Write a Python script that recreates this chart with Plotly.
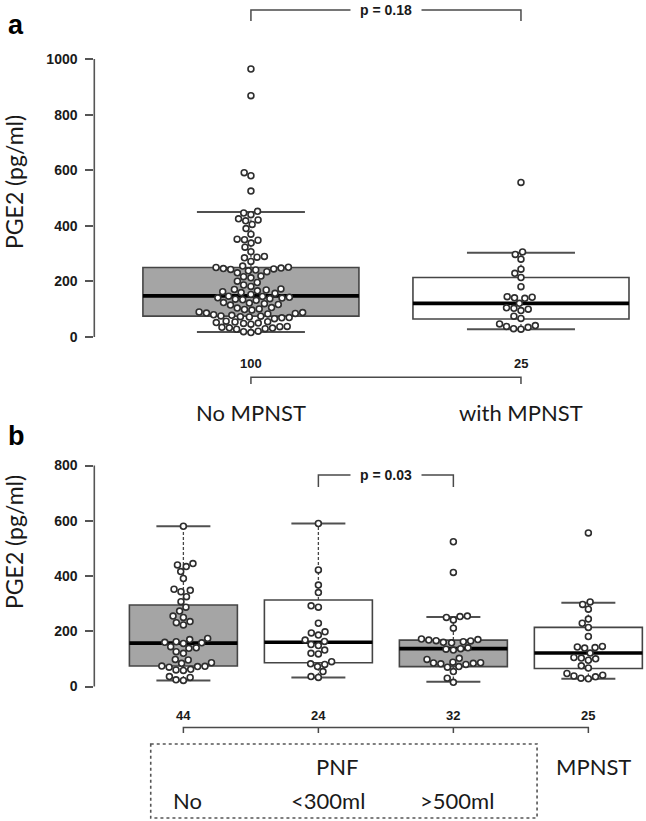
import numpy as np
import plotly.graph_objects as go

W, H = 646, 821

# ---------------- data ----------------
# panel a
a_names = ["No MPNST", "with MPNST"]
a_counts = ["100", "25"]
no_mpnst = [964, 868, 591, 580, 525,
            452, 446, 440, 425, 421, 418, 405, 390, 370, 352, 350, 348, 338, 323, 307, 290, 287, 285, 272, 255,
            251, 250, 248, 246, 245, 243, 241, 238, 235, 231, 219, 217, 213, 201, 196, 187, 182, 173, 171, 169,
            166, 163, 160, 157, 153,
            147, 146, 143, 141, 140, 138, 136, 134, 132, 124, 122, 120, 117, 115, 106, 104, 101, 99, 97, 90,
            88, 86, 85, 83, 80,
            78, 76, 75, 73, 72, 70, 69, 66, 57, 55, 54, 52, 50, 49, 46, 38, 37, 35, 33, 32, 30, 28, 21, 19, 16]
with_mpnst = [556, 306, 297, 280, 244, 229, 214, 181, 145, 143, 141, 139, 121, 105, 103, 100, 95, 75, 67,
              47, 41, 38, 35, 30, 28]
a_q1 = [75, 65]
a_med = [148, 121]
a_q3 = [250, 214]
a_lo = [18, 28]
a_hi = [450, 303]
a_fill = ["#a5a5a5", "#ffffff"]
a_ticks = [0, 200, 400, 600, 800, 1000]
a_p = "p = 0.18"

# panel b
b_counts = ["44", "24", "32", "25"]
b_sub = ["No", "<300ml", ">500ml"]
pnf_no = [580, 445, 440, 434, 416, 391, 352, 348, 343, 325, 307, 287, 273, 255, 250, 235, 231, 223, 174,
          170, 162, 160, 158, 156, 144, 140, 138, 126, 120, 98, 96, 86, 84, 74, 73, 72, 70, 62, 60, 58,
          36, 33, 24, 22]
pnf_lt300 = [590, 422, 367, 340, 292, 287, 229, 198, 194, 186, 168, 163, 152, 148, 132, 120, 118, 90, 82,
             80, 72, 54, 36, 33]
pnf_gt500 = [524, 413, 255, 253, 250, 241, 211, 172, 170, 168, 166, 165, 162, 160, 158, 140, 137, 135,
             132, 102, 98, 88, 86, 85, 84, 82, 80, 72, 70, 54, 30, 15]
mpnst = with_mpnst
b_q1 = [74, 86, 72, 65]
b_med = [157, 160, 137, 121]
b_q3 = [295, 313, 168, 214]
b_lo = [22, 33, 17, 28]
b_hi = [580, 590, 252, 303]
b_fill = ["#a5a5a5", "#ffffff", "#a5a5a5", "#ffffff"]
b_ticks = [0, 200, 400, 600, 800]
b_p = "p = 0.03"

# ---------------- layout geometry ----------------
AX_LEFT = 94.3 / W
xa_range = [0.42, 2.463]
xb_range = [0.34, 4.427]
ya_dom = [1 - 430 / H, 1.0]
ya_range = [-334.5, 1212.23]
yb_dom = [0.0, 1 - 450 / H]
yb_range = [-486.9, 856.1]


def px_per(dom, rng, size):
    return size * (dom[1] - dom[0]) / (rng[1] - rng[0])


kxa = px_per([AX_LEFT, 1], xa_range, W)
kxb = px_per([AX_LEFT, 1], xb_range, W)
kya = px_per(ya_dom, ya_range, H)
kyb = px_per(yb_dom, yb_range, H)

BOXW = 0.8
EDGE = "#454545"
TXT = "#1a1a1a"
DIAM = 7.4  # swarm spacing in px


def swarm(vals, ky, kx):
    ys = np.asarray(vals, float) * ky
    xs = np.zeros(len(ys))
    placed = []
    for i in np.argsort(ys, kind="stable"):
        y = ys[i]
        cands = [0.0]
        for py, px in placed:
            dy = abs(y - py)
            if dy < DIAM:
                dx = np.sqrt(DIAM ** 2 - dy ** 2)
                cands += [px + dx, px - dx]
        cands.sort(key=lambda c: (abs(c), c))
        for c in cands:
            if all((c - px) ** 2 + (y - py) ** 2 >= DIAM ** 2 - 1e-6 for py, px in placed):
                xs[i] = c
                break
        placed.append((y, xs[i]))
    return xs / kx


fig = go.Figure()


def add_group(pos, q1, med, q3, fill, xa, ya):
    fig.add_trace(go.Box(x=[pos], q1=[q1], median=[med], q3=[q3], lowerfence=[q1], upperfence=[q3],
                         width=BOXW, fillcolor=fill, line=dict(color=EDGE, width=1.6), whiskerwidth=0,
                         boxpoints=False, xaxis=xa, yaxis=ya, showlegend=False, hoverinfo="skip"))


def add_overlays(pos, vals, q1, med, q3, lo, hi, xa, ya, kx, ky):
    fig.add_trace(go.Scatter(x=[pos, pos, None, pos, pos], y=[q3, hi, None, q1, lo], mode="lines",
                             line=dict(color=EDGE, width=1.3, dash="3px,2px"), xaxis=xa, yaxis=ya,
                             showlegend=False, hoverinfo="skip"))
    c = BOXW / 4
    fig.add_trace(go.Scatter(x=[pos - c, pos + c, None, pos - c, pos + c], y=[hi, hi, None, lo, lo],
                             mode="lines", line=dict(color="#505050", width=2), xaxis=xa, yaxis=ya,
                             showlegend=False, hoverinfo="skip"))
    fig.add_trace(go.Scatter(x=[pos - BOXW / 2, pos + BOXW / 2], y=[med, med], mode="lines",
                             line=dict(color="#000000", width=3.6), xaxis=xa, yaxis=ya,
                             showlegend=False, hoverinfo="skip"))
    off = swarm(vals, ky, kx)
    fig.add_trace(go.Scatter(x=pos + off, y=vals, mode="markers",
                             marker=dict(size=5.9, color="white", line=dict(color="#2e2e2e", width=1.6)),
                             xaxis=xa, yaxis=ya, cliponaxis=False, showlegend=False, hoverinfo="skip"))


a_sets = [no_mpnst, with_mpnst]
b_sets = [pnf_no, pnf_lt300, pnf_gt500, mpnst]
for i in range(len(a_sets)):
    add_group(i + 1, a_q1[i], a_med[i], a_q3[i], a_fill[i], "x", "y")
for i in range(len(b_sets)):
    add_group(i + 1, b_q1[i], b_med[i], b_q3[i], b_fill[i], "x2", "y2")
for i, v in enumerate(a_sets):
    add_overlays(i + 1, v, a_q1[i], a_med[i], a_q3[i], a_lo[i], a_hi[i], "x", "y", kxa, kya)
for i, v in enumerate(b_sets):
    add_overlays(i + 1, v, b_q1[i], b_med[i], b_q3[i], b_lo[i], b_hi[i], "x2", "y2", kxb, kyb)

tickfont = dict(family="Liberation Sans", size=14, color=TXT, weight="bold")
common_x = dict(showgrid=False, zeroline=False, showticklabels=False, ticks="", showline=False)
common_y = dict(showgrid=False, zeroline=False, showline=False, ticks="outside", ticklen=8, tickwidth=1.6,
                tickcolor="#555555", tickfont=tickfont, ticklabelstandoff=5)

fig.update_layout(
    width=W, height=H, autosize=False, margin=dict(l=0, r=0, t=0, b=0, pad=0),
    paper_bgcolor="white", plot_bgcolor="rgba(0,0,0,0)",
    xaxis=dict(domain=[AX_LEFT, 1], range=xa_range, anchor="y", **common_x),
    yaxis=dict(domain=ya_dom, range=ya_range, anchor="x", tickvals=a_ticks, **common_y),
    xaxis2=dict(domain=[AX_LEFT, 1], range=xb_range, anchor="y2", **common_x),
    yaxis2=dict(domain=yb_dom, range=yb_range, anchor="x2", tickvals=b_ticks, **common_y),
)

LC = "#4a4a4a"
shapes = [
    # y axis lines (span of tick range only)
    dict(type="line", xref="paper", yref="y", x0=AX_LEFT, x1=AX_LEFT, y0=a_ticks[0], y1=a_ticks[-1],
         line=dict(color="#555555", width=1.6)),
    dict(type="line", xref="paper", yref="y2", x0=AX_LEFT, x1=AX_LEFT, y0=b_ticks[0], y1=b_ticks[-1],
         line=dict(color="#555555", width=1.6)),
    # p-value brackets
    dict(type="path", xref="x", yref="y", path="M 1,1137 L 1,1176 L 2,1176 L 2,1137",
         line=dict(color=LC, width=1.5)),
    dict(type="path", xref="x2", yref="y2", path="M 2,722 L 2,765.6 L 3,765.6 L 3,722",
         line=dict(color=LC, width=1.5)),
    # group axis brackets
    dict(type="path", xref="x", yref="y", path="M 1,-169 L 1,-145 L 2,-145 L 2,-169",
         line=dict(color=LC, width=1.5)),
    dict(type="path", xref="x2", yref="y2",
         path="M 1,-168 L 1,-148 L 4,-148 L 4,-168 M 2,-148 L 2,-168 M 3,-148 L 3,-168",
         line=dict(color=LC, width=1.5)),
    # dotted PNF frame
    dict(type="rect", xref="x2", yref="y2", x0=0.758, x1=3.62, y0=-208, y1=-476,
         line=dict(color="#555555", width=1.6, dash="dot")),
]
fig.update_layout(shapes=shapes)

lbl = dict(family="Lato", size=22, color=TXT)
numfont = dict(family="Liberation Sans", size=13, color=TXT, weight="bold")
pfont = dict(family="Liberation Sans", size=14, color=TXT, weight="bold")
ann = []
ann.append(dict(text=a_p, x=1.5, y=1176, xref="x", yref="y", showarrow=False, bgcolor="white",
                borderpad=9, font=pfont))
ann.append(dict(text=b_p, x=2.5, y=765.6, xref="x2", yref="y2", showarrow=False, bgcolor="white",
                borderpad=9, font=pfont))
for i, c in enumerate(a_counts):
    ann.append(dict(text=c, x=i + 1, y=-97, xref="x", yref="y", showarrow=False, font=numfont))
    ann.append(dict(text=a_names[i], x=i + 1, y=-270, xref="x", yref="y", showarrow=False, font=lbl))
for i, c in enumerate(b_counts):
    ann.append(dict(text=c, x=i + 1, y=-105.7, xref="x2", yref="y2", showarrow=False, font=numfont))
sub_x = [1.03, 2.07, 3.03]
for i, s in enumerate(b_sub):
    ann.append(dict(text=s.replace("<", "&lt;").replace(">", "&gt;"), x=sub_x[i], y=-411, xref="x2",
                    yref="y2", showarrow=False, font=lbl))
ann.append(dict(text="PNF", x=2.14, y=-290, xref="x2", yref="y2", showarrow=False, font=lbl))
ann.append(dict(text="MPNST", x=4.04, y=-290, xref="x2", yref="y2", showarrow=False, font=lbl))
# y titles
for yc in [1 - 182 / H, 1 - 542 / H]:
    ann.append(dict(text="PGE2 (pg/ml)", x=14 / W, y=yc, xref="paper", yref="paper", textangle=-90,
                    xanchor="center", yanchor="middle", showarrow=False,
                    font=dict(family="Lato", size=23, color=TXT)))
# panel letters
ann.append(dict(text="a", x=16 / W, y=1 - 25 / H, xref="paper", yref="paper", showarrow=False,
                xanchor="center", yanchor="middle",
                font=dict(family="Liberation Sans", size=27, color="#000000", weight="bold")))
ann.append(dict(text="b", x=16 / W, y=1 - 436 / H, xref="paper", yref="paper", showarrow=False,
                xanchor="center", yanchor="middle",
                font=dict(family="Liberation Sans", size=27, color="#000000", weight="bold")))
fig.update_layout(annotations=ann)

fig.write_html("out.html", config={"displayModeBar": False},
               post_script="document.body.style.margin='0px';")
